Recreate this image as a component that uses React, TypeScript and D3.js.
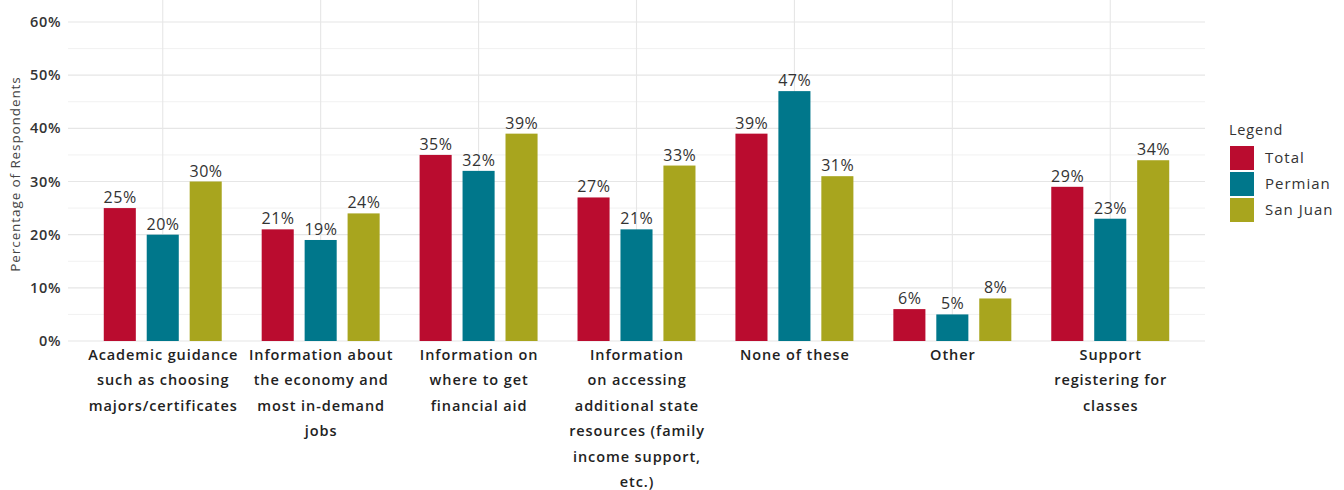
import React from "react";
import * as d3 from "d3";

const categories = [
  "Academic guidance such as choosing majors/certificates",
  "Information about the economy and most in-demand jobs",
  "Information on where to get financial aid",
  "Information on accessing additional state resources (family income support, etc.)",
  "None of these",
  "Other",
  "Support registering for classes",
];
const categoryLines = [
  ["Academic guidance", "such as choosing", "majors/certificates"],
  ["Information about", "the economy and", "most in-demand", "jobs"],
  ["Information on", "where to get", "financial aid"],
  ["Information", "on accessing", "additional state", "resources (family", "income support,", "etc.)"],
  ["None of these"],
  ["Other"],
  ["Support", "registering for", "classes"],
];
const seriesNames = ["Total", "Permian", "San Juan"];
const totalValues = [25, 21, 35, 27, 39, 6, 29];
const permianValues = [20, 19, 32, 21, 47, 5, 23];
const sanJuanValues = [30, 24, 39, 33, 31, 8, 34];
const yTicks = [0, 10, 20, 30, 40, 50, 60];
const colors = ["#BA0C2F", "#00778B", "#A8A51E"];

const W = 1344;
const H = 490;
const panel = { left: 68, right: 1205, top: 4, bottom: 341 };
const FONT = "'Open Sans', 'Noto Sans', sans-serif";

export default function App() {
  const series = [totalValues, permianValues, sanJuanValues];
  const x = d3
    .scaleLinear()
    .domain([0.4, categories.length + 0.6])
    .range([panel.left, panel.right]);
  const y = d3.scaleLinear().domain([0, 60]).range([panel.bottom, 22]);
  const unit = x(2) - x(1);
  const offsets = [-0.272, 0, 0.272];
  const barW = 0.203 * unit;
  const minor = d3.range(5, 60, 10);

  return (
    <svg
      width={W}
      height={H}
      style={{ position: "absolute", left: 0, top: 0, background: "#fff" }}
      fontFamily={FONT}
    >
      {minor.map((v) => (
        <line key={"m" + v} x1={panel.left} x2={panel.right} y1={y(v)} y2={y(v)} stroke="#f1f1f1" strokeWidth={1} />
      ))}
      {yTicks.map((v) => (
        <line key={"g" + v} x1={panel.left} x2={panel.right} y1={y(v)} y2={y(v)} stroke="#e6e6e6" strokeWidth={1.1} />
      ))}
      {categories.map((c, i) => (
        <line key={"v" + i} x1={x(i + 1)} x2={x(i + 1)} y1={0} y2={panel.bottom} stroke="#e6e6e6" strokeWidth={1.1} />
      ))}
      {series.map((vals, s) =>
        vals.map((v, i) => {
          const cx = x(i + 1) + offsets[s] * unit;
          return (
            <g key={s + "-" + i}>
              <rect x={cx - barW / 2} y={y(v)} width={barW} height={y(0) - y(v)} fill={colors[s]} />
              <text x={cx + 0.3} y={y(v) - 5} textAnchor="middle" fontSize={16} letterSpacing={0.5} fill="#333">
                {v}%
              </text>
            </g>
          );
        })
      )}
      {yTicks.map((v) => (
        <text key={"t" + v} x={61} y={y(v) + 5} textAnchor="end" fontSize={14.5} fontWeight={600} letterSpacing={0.6} fill="#333">
          {v}%
        </text>
      ))}
      <text
        transform={`translate(20,${174}) rotate(-90)`}
        textAnchor="middle"
        fontSize={13.5}
        letterSpacing={0.9}
        fill="#444"
      >
        Percentage of Respondents
      </text>
      {categoryLines.map((lines, i) => (
        <text key={"x" + i} textAnchor="middle" fontSize={14.5} fontWeight={600} letterSpacing={0.9} fill="#222">
          {lines.map((l, j) => (
            <tspan key={j} x={x(i + 1) + 0.5} y={360 + j * 25.4}>
              {l}
            </tspan>
          ))}
        </text>
      ))}
      <text x={1229} y={135} fontSize={14.5} letterSpacing={0.8} fill="#333">
        Legend
      </text>
      {seriesNames.map((n, s) => (
        <g key={"l" + s}>
          <rect x={1230} y={146 + s * 26} width={24} height={24} fill={colors[s]} />
          <text x={1265} y={163 + s * 26} fontSize={15} letterSpacing={1} fill="#333">
            {n}
          </text>
        </g>
      ))}
    </svg>
  );
}
